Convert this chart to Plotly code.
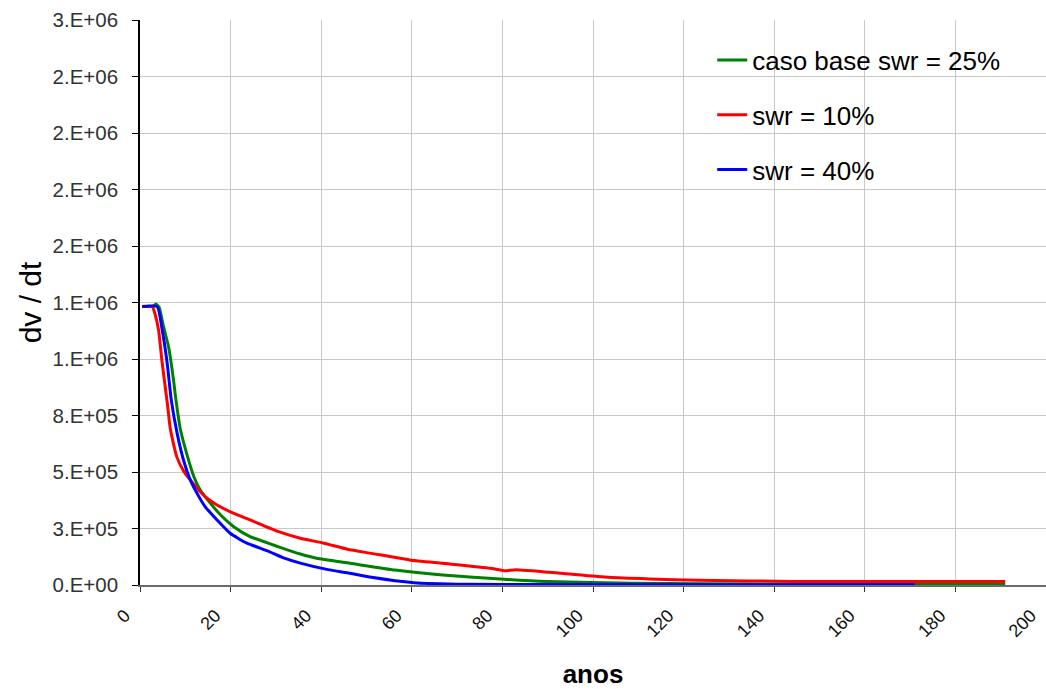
import plotly.graph_objects as go

# Decline of dv/dt over time for three residual water saturations (swr)
anos_base = [0.5, 3.0, 3.5, 4.2, 5.2, 6.3, 7.4, 7.8, 8.9, 10.4, 11.9, 13.3, 15.2, 17.7,
             20.7, 24.3, 30.6, 35.4, 39.0, 46.4, 56.3, 66.8, 80.4, 89.8, 108.7, 140.0, 191.0]
dvdt_base = [1232000, 1235000, 1243000, 1230000, 1143000, 1054000, 907000, 840000, 690000,
             575000, 479000, 420000, 370000, 312000, 258000, 214000, 169000, 137000, 118000,
             96000, 66000, 44000, 25000, 15000, 7500, 4000, 3000]

anos_swr10 = [0.5, 2.7, 3.3, 4.1, 4.9, 6.0, 6.7, 8.1, 9.6, 11.1, 13.3, 14.8, 17.0, 20.7,
              24.3, 30.6, 35.4, 40.6, 45.8, 51.1, 59.5, 66.8, 77.3, 80.4, 83.0, 93.0, 103.5,
              112.4, 123.4, 144.3, 191.0]
dvdt_swr10 = [1232000, 1232000, 1200000, 1128000, 981000, 810000, 690000, 568000, 505000,
              465000, 413000, 384000, 354000, 317000, 288000, 236000, 207000, 185000, 158000,
              140000, 111000, 96000, 74000, 63000, 68000, 52000, 34000, 27000, 21000, 16000,
              15000]

anos_swr40 = [0.5, 3.8, 4.9, 6.0, 6.9, 8.2, 9.6, 11.1, 13.0, 14.4, 17.0, 19.9, 23.6, 28.0,
              31.7, 35.4, 41.5, 46.4, 51.1, 60.5, 72.0, 100.0, 171.0]
dvdt_swr40 = [1232000, 1232000, 1128000, 981000, 819000, 671000, 553000, 465000, 391000,
              346000, 288000, 229000, 185000, 152000, 120000, 97000, 68000, 52000, 34000,
              10000, 3000, 2000, 1000]

series_names = ["caso base swr = 25%", "swr = 10%", "swr = 40%"]
series_colors = ["#008000", "#FF0000", "#0000FF"]

y_tickvals = [0, 250000, 500000, 750000, 1000000, 1250000, 1500000, 1750000, 2000000,
              2250000, 2500000]
y_ticktext = ["0.E+00", "3.E+05", "5.E+05", "8.E+05", "1.E+06", "1.E+06", "2.E+06",
              "2.E+06", "2.E+06", "2.E+06", "3.E+06"]
x_tickvals = list(range(0, 201, 20))

fig = go.Figure()
for xs, ys, name, color in zip([anos_base, anos_swr10, anos_swr40],
                               [dvdt_base, dvdt_swr10, dvdt_swr40],
                               series_names, series_colors):
    fig.add_trace(go.Scatter(x=xs, y=ys, mode="lines", name=name, legendgroup=name,
                             line=dict(color=color, width=3, shape="spline", smoothing=0.5)))

fig.update_layout(
    width=1046, height=689,
    margin=dict(l=140, r=0, t=20, b=104),
    paper_bgcolor="white", plot_bgcolor="white",
    font=dict(family="Arial, Liberation Sans, sans-serif", color="#000"),
    showlegend=True,
    legend=dict(x=0.6316, y=0.9706, xanchor="left", yanchor="top",
                bgcolor="rgba(0,0,0,0)", borderwidth=0,
                font=dict(size=26, color="#000"), tracegroupgap=18),
    shapes=[dict(type="rect", xref="paper", yref="paper", layer="between",
                 x0=0.6, x1=1.0, y0=0.690, y1=0.97,
                 fillcolor="white", line=dict(width=0))],
)

fig.update_xaxes(
    range=[0, 200], tickvals=x_tickvals, tickangle=-45,
    tickfont=dict(size=18, color="#111"),
    ticklabelshift=-15, ticklabelstandoff=6, ticklabeloverflow="allow",
    showgrid=True, gridcolor="#c8c8c8", gridwidth=1,
    showline=True, linecolor="#6a6a6a", linewidth=2,
    ticks="outside", ticklen=5, tickcolor="#333",
    zeroline=False,
    title=dict(text="<b>anos</b>", font=dict(size=26, color="#000"), standoff=26),
)
fig.update_yaxes(
    range=[0, 2500000], tickvals=y_tickvals, ticktext=y_ticktext,
    tickfont=dict(size=20.5, color="#333"),
    showgrid=True, gridcolor="#c8c8c8", gridwidth=1,
    showline=True, linecolor="#000", linewidth=1.5,
    ticks="outside", ticklen=6, tickcolor="#000", ticklabelstandoff=10,
    zeroline=False,
    title=dict(text="dv / dt", font=dict(size=30, color="#000"), standoff=2),
)

fig.write_html("out.html")
